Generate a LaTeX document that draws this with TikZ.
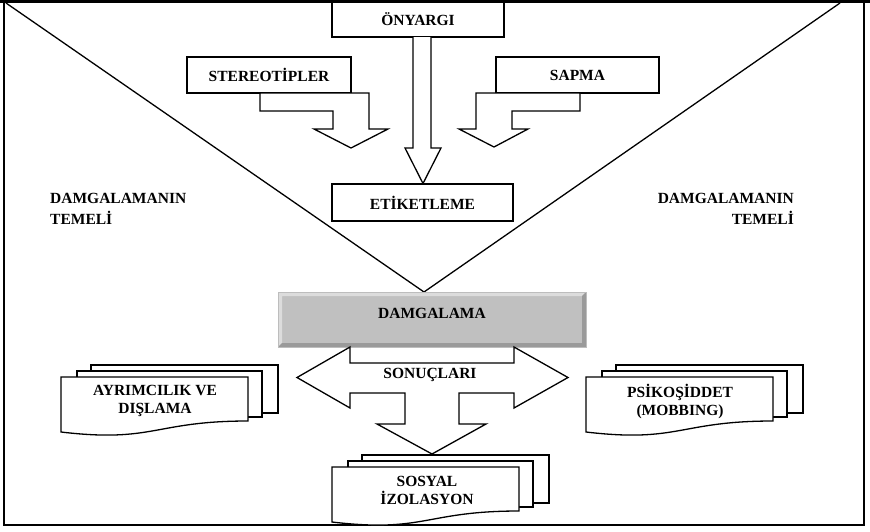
\documentclass[tikz,border=0pt]{standalone}
\usepackage{fontspec}
\setmainfont{Liberation Serif}
\definecolor{damfill}{HTML}{C0C0C0}
\definecolor{bevlight}{HTML}{DCDCDC}
\definecolor{bevdark}{HTML}{9A9A9A}
\definecolor{damedge}{HTML}{BDBDBD}
\begin{document}
\begin{tikzpicture}[x=1pt,y=-1pt,line join=miter]
\tikzset{
 box/.style={draw,line width=1.3pt,fill=white,inner sep=0pt,font=\bfseries\fontsize{15.5}{18}\selectfont},
 lbl/.style={inner sep=0pt,font=\bfseries\fontsize{15.5}{18}\selectfont,align=center},
 lblL/.style={inner sep=0pt,font=\bfseries\fontsize{15.5}{21}\selectfont,align=left,anchor=north west},
 lblR/.style={inner sep=0pt,font=\bfseries\fontsize{15.5}{21}\selectfont,align=right,anchor=north east},
 arr/.style={draw,line width=1.3pt,fill=white},
 ln/.style={line width=1.3pt},
 docs/.pic={
   \draw[line width=1.3pt,fill=white] (30,-12) rectangle (217,36);
   \draw[line width=1.3pt,fill=white] (16,-6) rectangle (201,40);
   \draw[line width=1.3pt,fill=white] (0,0) -- (187,0) -- (187,44)
      .. controls (93,44) and (93,66) .. (0,55) -- cycle;
 }
}
\useasboundingbox (0,0) rectangle (870,531);
% frame
\draw[line width=1.2pt] (4,2) -- (4,525) -- (864,525) -- (864,2);
\draw[line width=3pt] (0,1.5) -- (870,1.5);
% diagonals
\coordinate (tl) at (6,3);
\coordinate (tr) at (840,3);
\coordinate (apex) at (424,292);
\draw[ln] (tl) -- (apex) -- (tr);
% top boxes
\node[box,minimum width=172pt,minimum height=35pt] (ony) at (418,19.5) {ÖNYARGI};
\node[box,minimum width=164pt,minimum height=36pt] (ster) at (269,75) {STEREOTİPLER};
\node[box,minimum width=163pt,minimum height=36pt] (sap) at (577.5,75) {SAPMA};
\node[box,minimum width=181pt,minimum height=37pt] (etk) at (422.5,202.5) {ETİKETLEME};
% block arrows
\draw[arr] (413,37) -- (413,148) -- (405,148) -- (423,183.5) -- (441,148) -- (431,148) -- (431,37);
\draw[arr] (260,93) -- (260,111) -- (333,111) -- (333,129) -- (314,129) -- (351,148)
   -- (388,129) -- (369,129) -- (369,93) -- cycle;
\draw[arr] (580,93) -- (580,111) -- (512,111) -- (512,129) -- (528,129) -- (494,147)
   -- (459,129) -- (476,129) -- (476,93) -- cycle;
% side labels
\node[lblL] (tem1) at (50,193) {DAMGALAMANIN\\TEMELİ};
\node[lblR] (tem2) at (794,193) {DAMGALAMANIN\\TEMELİ};
% DAMGALAMA
\node[draw=damedge,line width=0.8pt,fill=damfill,minimum width=308pt,minimum height=55pt,inner sep=0pt] (dam) at (432,319.5) {};
\fill[bevlight] (278,292) -- (586,292) -- (582,296) -- (282,296) -- (282,343) -- (278,347) -- cycle;
\fill[bevdark] (586,292) -- (586,347) -- (278,347) -- (282,343) -- (582,343) -- (582,296) -- cycle;
\draw[damedge,line width=0.8pt] (278,292) rectangle (586,347);
\node[lbl] (damtxt) at (432,313) {DAMGALAMA};
% SONUCLARI arrow
\draw[arr] (350,347) -- (350,363) -- (514,363) -- (514,347) -- (568,377.5) -- (514,408)
  -- (514,393) -- (459,393) -- (459,424) -- (486,424) -- (432,454) -- (377,424)
  -- (405,424) -- (405,393) -- (350,393) -- (350,408) -- (297,377.5) -- cycle;
\node[lbl] (son) at (430,375) {SONUÇLARI};
% documents
\pic at (61,377) {docs};
\pic at (586,377) {docs};
\pic at (332,467) {docs};
\node[lbl] (ayr) at (155,401) {AYRIMCILIK VE\\DIŞLAMA};
\node[lbl] (psi) at (680,401) {PSİKOŞİDDET\\(MOBBING)};
\node[lbl] (sos) at (427,490) {SOSYAL\\İZOLASYON};
\end{tikzpicture}
\end{document}
